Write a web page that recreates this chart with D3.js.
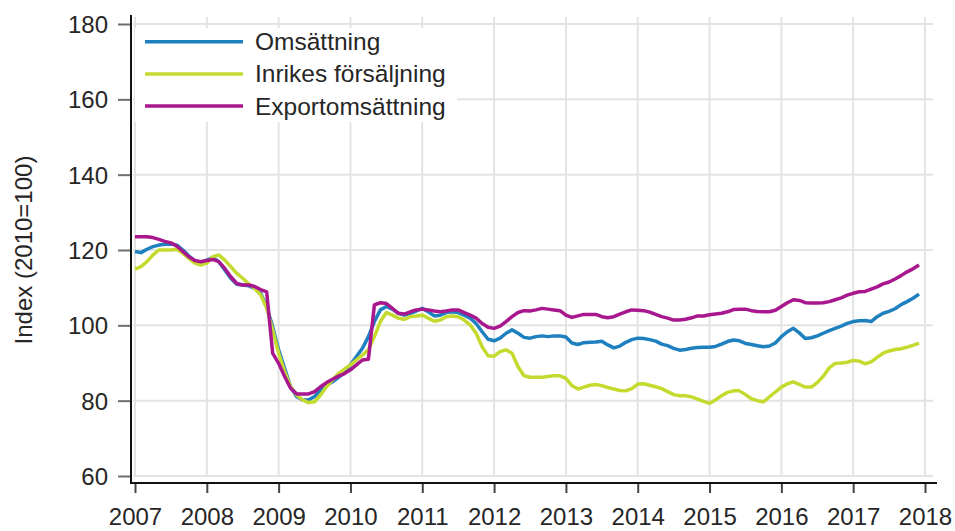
<!DOCTYPE html>
<html>
<head>
<meta charset="utf-8">
<script src="https://cdn.jsdelivr.net/npm/d3@7"></script>
<style>
  body { margin: 0; background: #fff; }
  svg { display: block; font-family: "Liberation Sans", Arial, sans-serif; }
</style>
</head>
<body>
<svg id="chart" width="955" height="531"></svg>
<script>
// monthly values, Jan 2007 - Dec 2017
var startYear = 2007
var seriesNames = ['Omsättning', 'Inrikes försäljning', 'Exportomsättning']
var seriesColors = ['#1f80bf', '#c5da2f', '#a8178e']

var omsattning = [
  119.6, 119.3, 120.2, 120.9, 121.3, 121.5, 121.6, 121.3, 120.0, 118.4, 117.2, 116.7,
  117.3, 118.0, 116.9, 114.7, 112.5, 110.9, 110.7, 110.5, 109.8, 108.5, 104.9, 99.6,
  93.5, 88.6, 83.7, 81.1, 80.2, 80.2, 81.1, 82.8, 84.2, 85.0, 86.2, 87.3,
  89.5, 91.7, 93.9, 97.0, 101.0, 104.1, 105.0, 104.3, 103.2, 102.7, 103.2, 103.8,
  104.5, 103.6, 102.5, 102.7, 103.4, 103.6, 103.4, 102.7, 101.9, 100.5, 98.3, 96.3,
  95.9, 96.6, 97.9, 98.8, 97.9, 96.8, 96.6, 97.0, 97.2, 97.0, 97.2, 97.2,
  96.9, 95.3, 94.9, 95.4, 95.5, 95.6, 95.8, 94.8, 94.0, 94.5, 95.5, 96.2,
  96.6, 96.5, 96.2, 95.8, 95.0, 94.6, 93.9, 93.4, 93.6, 93.9, 94.1, 94.2,
  94.2, 94.4, 95.0, 95.7, 96.1, 95.9, 95.2, 94.9, 94.6, 94.3, 94.5, 95.3,
  97.0, 98.3, 99.2, 98.0, 96.5, 96.7, 97.2, 97.9, 98.6, 99.2, 99.8, 100.5,
  101.0, 101.2, 101.3, 101.0, 102.3, 103.2, 103.7, 104.4, 105.5, 106.3, 107.2, 108.3
]

var inrikes = [
  114.9, 115.6, 116.9, 118.7, 120.0, 120.0, 120.0, 120.2, 119.1, 117.8, 116.5, 116.0,
  116.5, 118.2, 118.7, 117.3, 115.6, 113.8, 112.5, 111.0, 109.8, 108.1, 104.5, 98.8,
  92.6, 87.7, 83.7, 81.5, 80.2, 79.5, 79.7, 81.5, 83.7, 85.5, 87.2, 88.4,
  89.5, 90.8, 92.1, 93.5, 97.0, 101.0, 103.4, 102.7, 101.9, 101.6, 102.3, 102.5,
  102.7, 101.9, 101.1, 101.4, 102.3, 102.5, 102.3, 101.4, 100.1, 97.9, 94.3, 91.9,
  91.8, 93.0, 93.5, 92.6, 89.0, 86.6, 86.2, 86.2, 86.2, 86.4, 86.6, 86.6,
  85.9, 84.0, 83.1, 83.6, 84.1, 84.3, 84.0, 83.5, 83.1, 82.7, 82.6, 83.2,
  84.4, 84.5, 84.1, 83.7, 83.2, 82.4, 81.6, 81.3, 81.3, 81.0, 80.4, 79.8,
  79.3, 80.2, 81.3, 82.2, 82.6, 82.6, 81.6, 80.5, 80.0, 79.7, 81.0, 82.3,
  83.6, 84.5, 85.0, 84.3, 83.6, 83.6, 84.8, 86.5, 88.7, 89.9, 90.0, 90.2,
  90.7, 90.5, 89.8, 90.3, 91.5, 92.6, 93.2, 93.6, 93.8, 94.2, 94.7, 95.3
]

var export_ = [
  123.5, 123.5, 123.5, 123.3, 122.8, 122.3, 121.9, 121.0, 119.6, 118.2, 117.2, 116.9,
  117.2, 117.5, 116.9, 115.1, 112.9, 111.1, 110.7, 110.7, 110.3, 109.5, 108.9, 92.6,
  89.9, 86.4, 83.3, 81.8, 81.8, 81.8, 82.4, 83.7, 84.8, 85.7, 86.5, 87.2,
  88.2, 89.5, 90.8, 91.0, 105.4, 106.0, 105.8, 104.5, 103.2, 103.0, 103.6, 104.1,
  104.3, 104.1, 103.8, 103.6, 103.8, 104.1, 104.1, 103.4, 102.7, 101.9, 100.5, 99.5,
  99.2, 99.8, 101.0, 102.3, 103.4, 103.9, 103.8, 104.1, 104.5, 104.3, 104.1, 103.9,
  102.7, 102.1, 102.5, 102.9, 102.9, 102.9, 102.3, 102.0, 102.3, 103.0, 103.6, 104.1,
  104.0, 103.9, 103.5, 102.9, 102.3, 101.9, 101.4, 101.4, 101.6, 102.0, 102.5, 102.5,
  102.8, 103.0, 103.2, 103.6, 104.2, 104.3, 104.3, 103.9, 103.7, 103.6, 103.6, 104.0,
  105.0, 106.0, 106.8, 106.6, 106.0, 105.9, 105.9, 106.0, 106.3, 106.8, 107.3, 108.0,
  108.5, 108.9, 109.0, 109.6, 110.2, 111.0, 111.5, 112.3, 113.2, 114.2, 115.0, 116.0
]

var yearTicks = d3.range(2007, 2019)
var valueTicks = [60, 80, 100, 120, 140, 160, 180]
var yTitle = 'Index (2010=100)'

var svg = d3.select('#chart')
var xScale = d3.scaleLinear().domain([2007, 2018]).range([135, 925])
var yScale = d3.scaleLinear().domain([60, 180]).range([476, 24])

// grid
svg.append('g').selectAll('line')
    .data(valueTicks)
    .enter().append('line')
    .attr('x1', 133).attr('x2', 933)
    .attr('y1', yScale).attr('y2', yScale)
    .style('stroke', '#e3e3e3').style('stroke-width', 2)
svg.append('g').selectAll('line')
    .data(yearTicks)
    .enter().append('line')
    .attr('x1', xScale).attr('x2', xScale)
    .attr('y1', 17).attr('y2', 477)
    .style('stroke', '#e3e3e3').style('stroke-width', 2)

// lines
var allSeries = [omsattning, inrikes, export_]
var line = d3.line()
    .x(function (d, i) { return xScale(startYear + i / 12) })
    .y(function (d) { return yScale(d) })

svg.append('g').selectAll('path')
    .data(allSeries)
    .enter().append('path')
    .attr('d', line)
    .style('fill', 'none')
    .style('stroke', function (d, i) { return seriesColors[i] })
    .style('stroke-width', 3.5)
    .style('stroke-linejoin', 'round')

// axes
var yAxis = svg.append('g')
    .attr('transform', 'translate(131,0)')
    .call(d3.axisLeft(yScale).tickValues(valueTicks).tickSize(13).tickPadding(10).tickSizeOuter(0))
yAxis.select('.domain').remove()
yAxis.selectAll('line').style('stroke', '#6e6e6e').style('stroke-width', 2)
yAxis.selectAll('text').style('font-size', '24px').style('fill', '#262626').attr('dy', '0.36em')

var xAxis = svg.append('g')
    .attr('transform', 'translate(0,483)')
    .call(d3.axisBottom(xScale).tickValues(yearTicks).tickFormat(d3.format('d')).tickSize(10).tickPadding(15).tickSizeOuter(0))
xAxis.select('.domain').remove()
xAxis.selectAll('line').style('stroke', '#444').style('stroke-width', 2)
xAxis.selectAll('text').style('font-size', '24px').style('fill', '#262626')

svg.append('line')
    .attr('x1', 131).attr('x2', 131).attr('y1', 15).attr('y2', 484)
    .style('stroke', '#111').style('stroke-width', 2)
svg.append('line')
    .attr('x1', 130).attr('x2', 937).attr('y1', 483).attr('y2', 483)
    .style('stroke', '#111').style('stroke-width', 2)

svg.append('text')
    .attr('transform', 'translate(32,250) rotate(-90)')
    .attr('text-anchor', 'middle')
    .style('font-size', '24px')
    .style('fill', '#262626')
    .text(yTitle)

// legend
var legend = svg.append('g')
legend.append('rect')
    .attr('x', 135).attr('y', 28).attr('width', 322).attr('height', 94)
    .style('fill', '#fff')
var items = legend.selectAll('g.item')
    .data(seriesNames)
    .enter().append('g')
    .attr('transform', function (d, i) { return 'translate(0,' + (41.7 + i * 32.2) + ')' })
items.append('line')
    .attr('x1', 145).attr('x2', 243)
    .style('stroke', function (d, i) { return seriesColors[i] })
    .style('stroke-width', 3.5)
items.append('text')
    .attr('x', 255).attr('y', 8.5)
    .style('font-size', '24.5px')
    .style('fill', '#262626')
    .text(function (d) { return d })
</script>
</body>
</html>
